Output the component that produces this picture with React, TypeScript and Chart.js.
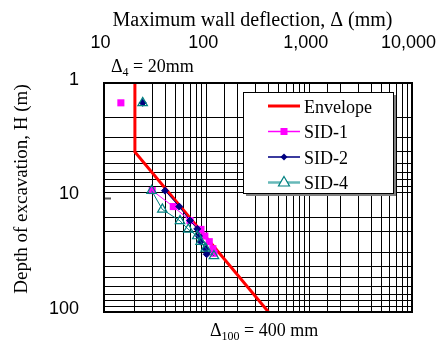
import React, { useEffect, useRef } from 'react';
import { Chart, registerables } from 'chart.js';

Chart.register(...registerables);

// ---- data ----
const xTickValues = [10, 100, 1000, 10000];
const xTickLabels = ['10', '100', '1,000', '10,000'];
const yTickValues = [1, 10, 100];
const yTickLabels = ['1', '10', '100'];

const envelopeDeflection = [20, 20, 400];
const envelopeDepth = [1, 4, 100];

const sid1Deflection = [14.6, 29.5, 47.3, 68.8, 88, 96, 106, 115, 118];
const sid1Depth = [1.49, 8.7, 12.0, 15.9, 19.0, 21.7, 24.3, 28.0, 30.7];

const sid2Deflection = [23.8, 39.3, 54.1, 68.8, 81, 84.1, 87.4, 97.8, 100];
const sid2Depth = [1.49, 8.72, 12.0, 15.9, 18.8, 21.7, 24.3, 28.2, 31.3];

const sid4Deflection = [23.8, 29.1, 37, 55, 66.2, 81, 87.4, 97.8, 117.8];
const sid4Depth = [1.49, 8.72, 12.7, 16.0, 19.0, 21.7, 24.3, 27.8, 32.4];

const legendLabels = ['Envelope', 'SID-1', 'SID-2', 'SID-4'];
const xTitle = 'Maximum wall deflection, Δ (mm)';
const yTitle = 'Depth of excavation, H (m)';

const SERIF = '"Liberation Serif", "Times New Roman", serif';
const SANS = '"Liberation Sans", Arial, sans-serif';

const near = (a: number, b: number) => Math.abs(a - b) / b < 1e-6;
const labelFor = (vals: number[], labels: string[]) => (v: any) => {
  const n = Number(v);
  const i = vals.findIndex((t) => near(n, t));
  return i >= 0 ? labels[i] : '';
};

const pts = (xs: number[], ys: number[]) => xs.map((x, i) => ({ x, y: ys[i] }));
const breakFirst = (color: string) => ({
  borderColor: (c: any) => (c.p0DataIndex === 0 ? 'rgba(0,0,0,0)' : color),
});

function drawMarker(ctx: CanvasRenderingContext2D, kind: string, x: number, y: number) {
  ctx.save();
  if (kind === 'square') {
    ctx.fillStyle = '#ff00ff';
    ctx.fillRect(x - 3.5, y - 3.5, 7, 7);
  } else if (kind === 'diamond') {
    ctx.fillStyle = '#000080';
    ctx.beginPath();
    ctx.moveTo(x - 3.5, y);
    ctx.lineTo(x, y - 3.5);
    ctx.lineTo(x + 3.5, y);
    ctx.lineTo(x, y + 3.5);
    ctx.closePath();
    ctx.fill();
  } else if (kind === 'triangle') {
    ctx.strokeStyle = '#008080';
    ctx.fillStyle = '#ffffff';
    ctx.lineWidth = 1.2;
    ctx.beginPath();
    ctx.moveTo(x, y - 6);
    ctx.lineTo(x + 5.5, y + 3.5);
    ctx.lineTo(x - 5.5, y + 3.5);
    ctx.closePath();
    ctx.fill();
    ctx.stroke();
  }
  ctx.restore();
}

function drawSubText(
  ctx: CanvasRenderingContext2D,
  x: number,
  baseline: number,
  main: string,
  sub: string,
  rest: string
) {
  ctx.save();
  ctx.fillStyle = '#000';
  ctx.textBaseline = 'alphabetic';
  ctx.textAlign = 'left';
  ctx.font = `18px ${SERIF}`;
  ctx.fillText(main, x, baseline);
  let cx = x + ctx.measureText(main).width;
  ctx.font = `12px ${SERIF}`;
  ctx.fillText(sub, cx, baseline + 4);
  cx += ctx.measureText(sub).width;
  ctx.font = `18px ${SERIF}`;
  ctx.fillText(rest, cx, baseline);
  ctx.restore();
}

const overlayPlugin = {
  id: 'overlay',
  afterDatasetsDraw(chart: any) {
    const { ctx, chartArea: a, scales } = chart;
    ctx.save();
    // frame
    ctx.strokeStyle = '#000';
    ctx.lineWidth = 2;
    ctx.strokeRect(a.left, a.top, a.right - a.left, a.bottom - a.top);
    // short mark at H = 10
    const y10 = scales.y.getPixelForValue(10);
    ctx.strokeStyle = '#555';
    ctx.lineWidth = 2;
    ctx.beginPath();
    ctx.moveTo(a.left + 1, Math.round(y10) + 0.5);
    ctx.lineTo(a.left + 7, Math.round(y10) + 0.5);
    ctx.stroke();

    // legend
    const lx = a.left + 139;
    const ly = a.top + 9;
    const lw = 150;
    const lh = 101;
    ctx.fillStyle = '#808080';
    ctx.fillRect(lx + 3, ly + 3, lw, lh);
    ctx.fillStyle = '#ffffff';
    ctx.fillRect(lx, ly, lw, lh);
    ctx.strokeStyle = '#000';
    ctx.lineWidth = 1;
    ctx.strokeRect(lx + 0.5, ly + 0.5, lw, lh);

    const lineColors = ['#ff0000', '#ff00ff', '#3b3b9e', '#66b8b8'];
    const lineWidths = [3, 1.5, 2, 2.5];
    const markers = ['', 'square', 'diamond', 'triangle'];
    legendLabels.forEach((label, i) => {
      const iy = ly + 14 + i * 25.5;
      ctx.strokeStyle = lineColors[i];
      ctx.lineWidth = lineWidths[i];
      ctx.beginPath();
      ctx.moveTo(lx + 25, iy);
      ctx.lineTo(lx + 57, iy);
      ctx.stroke();
      if (markers[i]) drawMarker(ctx, markers[i], lx + 41, iy);
      ctx.fillStyle = '#000';
      ctx.font = `18px ${SERIF}`;
      ctx.textAlign = 'left';
      ctx.textBaseline = 'alphabetic';
      ctx.fillText(label, lx + 61, iy + 6.5);
    });

    // annotations
    drawSubText(ctx, a.left + 7, a.top - 11, 'Δ', '4', ' = 20mm');
    drawSubText(ctx, a.left + 106, a.bottom + 23.5, 'Δ', '100', ' = 400 mm');

    // axis titles
    ctx.fillStyle = '#000';
    ctx.textAlign = 'center';
    ctx.textBaseline = 'alphabetic';
    ctx.font = `20px ${SERIF}`;
    ctx.fillText(xTitle, a.left + 148.5, 26);
    ctx.save();
    ctx.translate(26.5, a.top + 106);
    ctx.rotate(-Math.PI / 2);
    ctx.font = `19px ${SERIF}`;
    ctx.fillText(yTitle, 0, 0);
    ctx.restore();
    ctx.restore();
  },
};

export default function App() {
  const ref = useRef<HTMLCanvasElement | null>(null);

  useEffect(() => {
    document.body.style.margin = '0';
    const canvas = ref.current;
    if (!canvas) return;
    const chart = new Chart(canvas, {
      type: 'line',
      data: {
        datasets: [
          {
            label: 'SID-4',
            data: pts(sid4Deflection, sid4Depth),
            borderColor: '#008080',
            borderWidth: 1,
            pointStyle: 'triangle',
            pointRadius: 5.5,
            pointBorderColor: '#008080',
            pointBackgroundColor: 'rgba(0,0,0,0)',
            pointBorderWidth: 1.2,
            segment: breakFirst('#008080'),
            order: 0,
          },
          {
            label: 'SID-2',
            data: pts(sid2Deflection, sid2Depth),
            borderColor: '#000080',
            borderWidth: 1,
            pointStyle: 'rectRot',
            pointRadius: 3.5,
            pointBorderColor: '#000080',
            pointBackgroundColor: '#000080',
            pointBorderWidth: 1,
            segment: breakFirst('#000080'),
            order: 1,
          },
          {
            label: 'SID-1',
            data: pts(sid1Deflection, sid1Depth),
            borderColor: '#ff00ff',
            borderWidth: 1,
            pointStyle: 'rect',
            pointRadius: 5,
            pointBorderColor: '#ff00ff',
            pointBackgroundColor: '#ff00ff',
            pointBorderWidth: 0,
            segment: breakFirst('#ff00ff'),
            order: 2,
          },
          {
            label: 'Envelope',
            data: pts(envelopeDeflection, envelopeDepth),
            borderColor: '#ff0000',
            borderWidth: 3,
            pointRadius: 0,
            order: 3,
          },
        ],
      } as any,
      options: {
        animation: false,
        responsive: false,
        devicePixelRatio: 1,
        layout: { padding: { left: 0, right: 34, top: 0, bottom: 32 } },
        plugins: { legend: { display: false }, tooltip: { enabled: false } },
        elements: { line: { tension: 0 } },
        scales: {
          x: {
            type: 'logarithmic',
            position: 'top',
            min: 10,
            max: 10000,
            afterFit: (s: any) => {
              s.height = 83;
              s.paddingLeft = 0;
              s.paddingRight = 0;
            },
            ticks: {
              autoSkip: false,
              maxRotation: 0,
              minRotation: 0,
              padding: 29,
              labelOffset: -3.5,
              color: '#000',
              font: { family: SANS, size: 18 },
              callback: labelFor(xTickValues, xTickLabels),
            },
            grid: { color: '#000', lineWidth: 1, drawTicks: false },
            border: { display: false },
            title: { display: false },
          },
          y: {
            type: 'logarithmic',
            reverse: true,
            min: 1,
            max: 100,
            afterFit: (s: any) => {
              s.width = 104;
              s.paddingTop = 0;
              s.paddingBottom = 0;
            },
            ticks: {
              autoSkip: false,
              padding: 25,
              labelOffset: -3,
              color: '#000',
              font: { family: SANS, size: 18 },
              callback: labelFor(yTickValues, yTickLabels),
            },
            grid: {
              color: (c: any) =>
                c.tick && near(Number(c.tick.value), 10) ? 'rgba(0,0,0,0)' : '#000',
              lineWidth: 1,
              drawTicks: false,
            },
            border: { display: false },
            title: { display: false },
          },
        },
      } as any,
      plugins: [overlayPlugin],
    });
    return () => chart.destroy();
  }, []);

  return (
    <div style={{ width: 446, height: 344, background: '#fff' }}>
      <canvas ref={ref} width={446} height={344} style={{ display: 'block' }} />
    </div>
  );
}
